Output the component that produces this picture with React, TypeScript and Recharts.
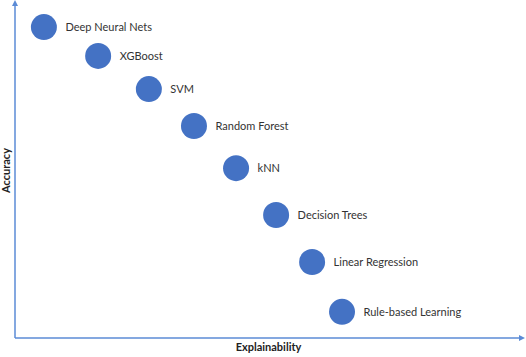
import { ScatterChart, Scatter, XAxis, YAxis, LabelList } from "recharts"

const models = [
  "Deep Neural Nets",
  "XGBoost",
  "SVM",
  "Random Forest",
  "kNN",
  "Decision Trees",
  "Linear Regression",
  "Rule-based Learning",
]
const explainability = [5.7, 16.4, 26.4, 35.3, 43.6, 51.5, 58.6, 64.5]
const accuracy = [92.8, 84.2, 74.3, 63.3, 50.7, 36.7, 22.7, 7.8]

const data = models.map((name, i) => ({
  name,
  x: explainability[i],
  y: accuracy[i],
}))

const axisColor = "#5b8bd6"
const font = "Lato, 'Open Sans', sans-serif"

const Dot = (props: any) => <circle cx={props.cx} cy={props.cy} r={13} fill="#4472c4" />

export default function App() {
  return (
    <div style={{ width: 526, height: 357 }}>
      <style>{`body{margin:0}`}</style>
      <ScatterChart width={526} height={357} margin={{ top: 3, right: 4, bottom: 18, left: 14 }}>
        <defs>
          <marker id="arrow" viewBox="0 0 10 10" refX="5" refY="5" markerWidth="4" markerHeight="4" orient="auto-start-reverse">
            <path d="M0,0 L10,5 L0,10 z" fill={axisColor} />
          </marker>
        </defs>
        <XAxis
          type="number"
          dataKey="x"
          domain={[0, 100]}
          height={1}
          tick={false}
          tickLine={false}
          axisLine={{ stroke: axisColor, strokeWidth: 1.5, markerEnd: "url(#arrow)" }}
          label={{ value: "Explainability", position: "bottom", offset: 4, fontFamily: font, fontSize: 11, fontWeight: 700, fill: "#222" }}
        />
        <YAxis
          type="number"
          dataKey="y"
          domain={[0, 100]}
          width={1}
          tick={false}
          tickLine={false}
          axisLine={{ stroke: axisColor, strokeWidth: 1.5, markerStart: "url(#arrow)" }}
          label={{ value: "Accuracy", angle: -90, position: "center", dx: -8, fontFamily: font, fontSize: 11, fontWeight: 700, fill: "#222" }}
        />
        <Scatter data={data} shape={Dot} isAnimationActive={false}>
          <LabelList dataKey="name" position="right" offset={17} fontFamily={font} fontSize={11} fill="#333" />
        </Scatter>
      </ScatterChart>
    </div>
  )
}
